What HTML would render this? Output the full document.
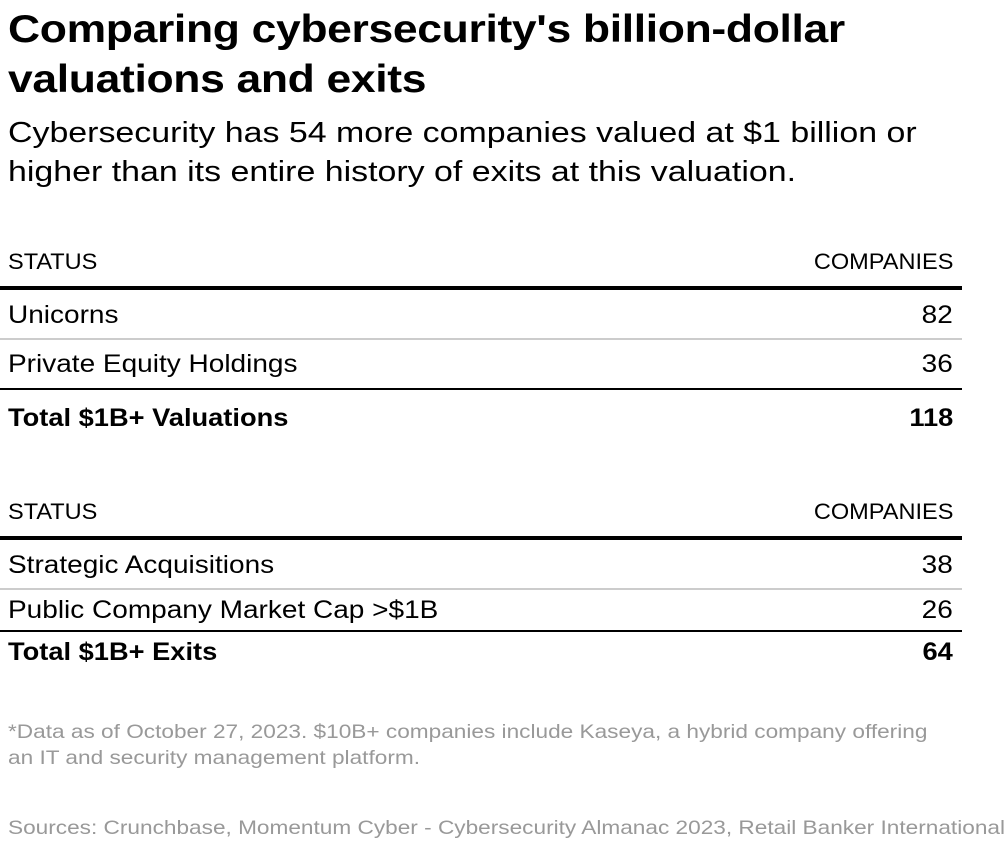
<!DOCTYPE html>
<html><head><meta charset="utf-8"><style>
body{margin:0;width:1005px;height:864px;background:#fff;position:relative;overflow:hidden;font-family:"Liberation Sans",sans-serif;color:#000}
.a{position:absolute;white-space:nowrap;transform-origin:left top}
.t{left:8px;font-size:39px;font-weight:bold;line-height:50px;letter-spacing:-0.3px;transform:scaleX(1.14)}
.s{left:8px;font-size:28.5px;line-height:39px;transform:scaleX(1.19)}
.h{font-size:22px;line-height:26px;transform:scaleX(1.07)}
.r{font-size:25px;line-height:30px;transform:scaleX(1.12)}
.b{font-weight:bold;transform:scaleX(1.09)}
.n{right:52px;text-align:right;transform-origin:right top}
.l{left:8px}
.ln{position:absolute;left:0;width:962px}
.g{color:#999;font-size:19.5px;line-height:26px;left:8px;transform:scaleX(1.16)}
</style></head><body>
<div class="a t" style="top:5px">Comparing cybersecurity's billion-dollar<br>valuations and exits</div>
<div class="a s" style="top:114px">Cybersecurity has 54 more companies valued at $1 billion or<br>higher than its entire history of exits at this valuation.</div>

<div class="a h l" style="top:249px">STATUS</div>
<div class="a h n" style="top:249px">COMPANIES</div>
<div class="ln" style="top:286px;height:4px;background:#000"></div>
<div class="a r l" style="top:300px">Unicorns</div>
<div class="a r n" style="top:300px">82</div>
<div class="ln" style="top:338px;height:2px;background:#ccc"></div>
<div class="a r l" style="top:349px">Private Equity Holdings</div>
<div class="a r n" style="top:349px">36</div>
<div class="ln" style="top:388px;height:2px;background:#000"></div>
<div class="a r l b" style="top:403px">Total $1B+ Valuations</div>
<div class="a r n b" style="top:403px">118</div>

<div class="a h l" style="top:499px">STATUS</div>
<div class="a h n" style="top:499px">COMPANIES</div>
<div class="ln" style="top:536px;height:4px;background:#000"></div>
<div class="a r l" style="top:550px">Strategic Acquisitions</div>
<div class="a r n" style="top:550px">38</div>
<div class="ln" style="top:588px;height:2px;background:#ccc"></div>
<div class="a r l" style="top:595px">Public Company Market Cap &gt;$1B</div>
<div class="a r n" style="top:595px">26</div>
<div class="ln" style="top:630px;height:2px;background:#000"></div>
<div class="a r l b" style="top:637px">Total $1B+ Exits</div>
<div class="a r n b" style="top:637px">64</div>

<div class="a g" style="top:719px">*Data as of October 27, 2023. $10B+ companies include Kaseya, a hybrid company offering<br>an IT and security management platform.</div>
<div class="a g" style="top:815px">Sources: Crunchbase, Momentum Cyber - Cybersecurity Almanac 2023, Retail Banker International</div>
</body></html>
